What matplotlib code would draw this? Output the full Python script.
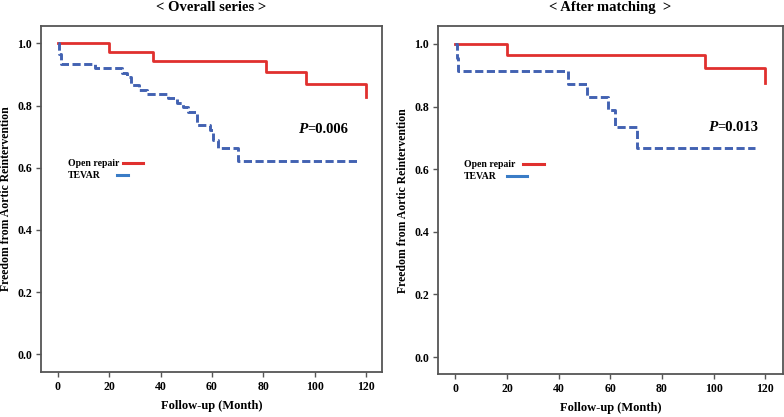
import matplotlib.pyplot as plt

# Overall series (months, survival)
open_t_all = [0, 20, 37, 81, 96.5, 120]
open_s_all = [1.0, 0.971, 0.942, 0.908, 0.871, 0.828]
tevar_t_all = [0, 0.3, 1, 14.5, 25, 27, 28.5, 31.5, 34.5, 43, 46.2, 48.8, 50.8, 54, 59.2, 60.5, 62.4, 70.2, 117]
tevar_s_all = [1.0, 0.967, 0.935, 0.920, 0.905, 0.893, 0.866, 0.850, 0.838, 0.823, 0.807, 0.796, 0.780,
               0.737, 0.720, 0.690, 0.662, 0.623, 0.623]

# After matching
open_t_match = [0, 20, 96.7, 120]
open_s_match = [1.0, 0.966, 0.922, 0.874]
tevar_t_match = [0, 0.5, 1.2, 43.7, 50.8, 59.2, 61.8, 70.2, 116]
tevar_s_match = [1.0, 0.955, 0.912, 0.872, 0.830, 0.789, 0.736, 0.669, 0.669]

panels = [
    dict(title="< Overall series >", ot=open_t_all, os=open_s_all, tt=tevar_t_all, ts=tevar_s_all,
         p="0.006", pos=[0.0523, 0.1079, 0.4349, 0.8297], xl=(-6.6, 126.2), yl=(-0.057, 1.056),
         ptxt=(93.5, 0.723), lab_x=-0.085,
         leg_txt_x=0.079, leg_open=(0.240, 0.299), leg_tevar=(0.223, 0.255)),
    dict(title="< After matching  >", ot=open_t_match, os=open_s_match, tt=tevar_t_match, ts=tevar_s_match,
         p="0.013", pos=[0.5590, 0.1024, 0.4393, 0.8352], xl=(-6.6, 126.7), yl=(-0.055, 1.057),
         ptxt=(97.7, 0.734), lab_x=-0.085,
         leg_txt_x=0.074, leg_open=(0.245, 0.306), leg_tevar=(0.199, 0.258)),
]

RED = "#e0302e"
BLUE = "#4262b2"
LEG_BLUE = "#3a7cc6"
SERIF = "Liberation Serif"

fig = plt.figure(figsize=(7.84, 4.17), dpi=100)

for pn in panels:
    ax = fig.add_axes(pn["pos"])
    ax.step(pn["ot"], pn["os"], where="post", color=RED, lw=2.0)
    ax.step(pn["tt"], pn["ts"], where="post", color=BLUE, lw=2.1, dashes=(2.8, 1.2))
    ax.set_xlim(*pn["xl"])
    ax.set_ylim(*pn["yl"])
    ax.set_xticks([0, 20, 40, 60, 80, 100, 120])
    ax.set_yticks([0.0, 0.2, 0.4, 0.6, 0.8, 1.0])
    ax.set_yticklabels(["0.0", "0.2", "0.4", "0.6", "0.8", "1.0"])
    for sp in ax.spines.values():
        sp.set_color("#555555")
        sp.set_linewidth(1.3)
    ax.tick_params(direction="out", length=3.5, width=1.0, color="#555555", pad=3)
    for lab in ax.get_xticklabels() + ax.get_yticklabels():
        lab.set_fontfamily(SERIF)
        lab.set_fontweight("bold")
        lab.set_fontsize(8.5)
    ax.set_title(pn["title"], fontfamily=SERIF, fontweight="bold", fontsize=10.5, pad=11)
    ax.set_xlabel("Follow-up (Month)", fontfamily=SERIF, fontweight="bold", fontsize=9, labelpad=5)
    ax.set_ylabel("Freedom from Aortic Reintervention", fontfamily=SERIF, fontweight="bold",
                  fontsize=8.5)
    ax.yaxis.set_label_coords(pn["lab_x"], 0.5)

    # P value
    ax.annotate("P", xy=pn["ptxt"], fontsize=11, fontweight="bold", style="italic",
                fontfamily=SERIF, va="center", ha="left")
    ax.annotate("=" + pn["p"], xy=pn["ptxt"], xytext=(6.5, 0), textcoords="offset points",
                fontsize=10.5, fontweight="bold", fontfamily=SERIF, va="center", ha="left")

    # legend (SPSS style, text first then sample line)
    ax.text(pn["leg_txt_x"], 0.603, "Open repair", transform=ax.transAxes, fontfamily=SERIF,
            fontweight="bold", fontsize=7, va="center", ha="left")
    ax.text(pn["leg_txt_x"], 0.569, "TEVAR", transform=ax.transAxes, fontfamily=SERIF,
            fontweight="bold", fontsize=7, va="center", ha="left")
    ax.plot(pn["leg_open"], [0.603, 0.603], transform=ax.transAxes, color=RED, lw=2.2)
    ax.plot(pn["leg_tevar"], [0.569, 0.569], transform=ax.transAxes, color=LEG_BLUE, lw=2.2)

fig.savefig("out.png", dpi=100)
